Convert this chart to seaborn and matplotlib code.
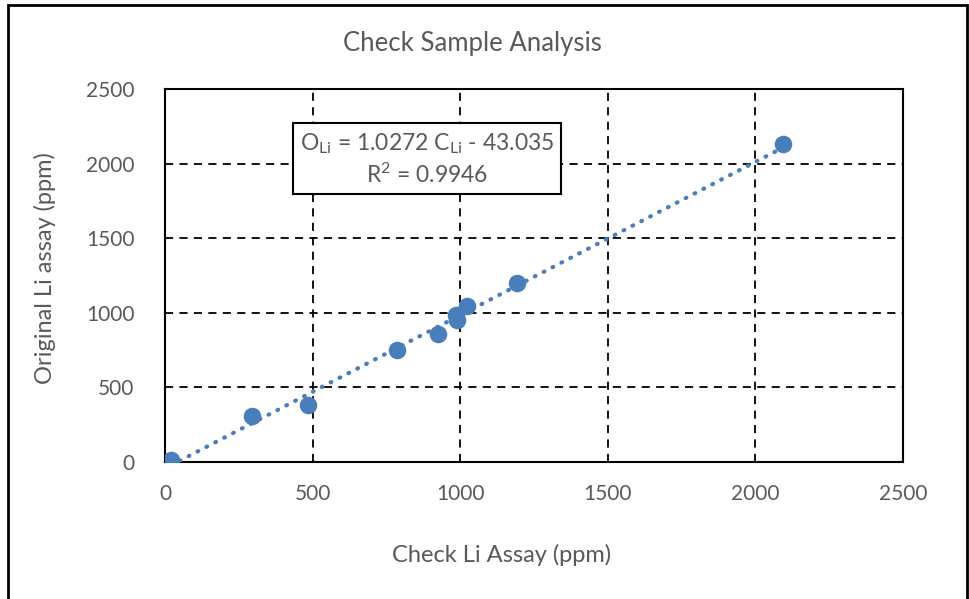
import numpy as np
import pandas as pd
import matplotlib.pyplot as plt
from matplotlib.patches import Rectangle
import seaborn as sns

# check assay vs original assay (ppm)
check_li = [20, 295, 484, 786, 925, 986, 988, 1023, 1192, 2093]
original_li = [15, 308, 382, 750, 858, 985, 952, 1046, 1200, 2131]

# trendline as printed on the chart
slope = 1.0272
intercept = -43.035
r_squared = 0.9946

ticks = [0, 500, 1000, 1500, 2000, 2500]

df = pd.DataFrame({"check": check_li, "original": original_li})

sns.set_style("white")
plt.rcParams['font.family'] = ['Lato', 'DejaVu Sans']

grey = "#595959"
blue = "#4a7ebb"

fig = plt.figure(figsize=(9.7, 5.99), dpi=100)
ax = fig.add_axes([165/970, 1 - 462/599, 738/970, 373/599])

# trendline (dotted)
xs = np.array([min(check_li), max(check_li)])
trend = pd.DataFrame({"x": xs, "y": slope * xs + intercept})
sns.lineplot(data=trend, x="x", y="y", ax=ax, color=blue, lw=3,
             linestyle=(0, (0.2, 2.2)), dash_capstyle="round", zorder=3)

sns.scatterplot(data=df, x="check", y="original", ax=ax, color=blue,
                s=160, edgecolor=blue, linewidth=0, zorder=4)

ax.set_xlim(0, 2500)
ax.set_ylim(0, 2500)
ax.set_xticks(ticks)
ax.set_yticks(ticks)
ax.grid(True, color="black", linestyle=(0, (4.5, 3.5)), lw=1.3)
for s in ax.spines.values():
    s.set_color("black")
    s.set_linewidth(1.5)
    s.set_visible(True)
ax.tick_params(axis="both", colors=grey, labelsize=15, length=0)
ax.tick_params(axis="x", pad=16)
ax.tick_params(axis="y", pad=22)
ax.set_xlabel("")
ax.set_ylabel("")

fig.text(472/970, 1 - 43/599, "Check Sample Analysis", ha="center", va="center",
         fontsize=18.5, color=grey)
fig.text(502/970, 1 - 555/599, "Check Li Assay (ppm)", ha="center", va="center",
         fontsize=17, color=grey)
fig.text(45/970, 1 - 268/599, "Original Li assay (ppm)", ha="center", va="center",
         fontsize=17, color=grey, rotation=90)

eq = ("$\\mathregular{O_{Li}}$ = 1.0272 $\\mathregular{C_{Li}}$ - 43.035\n"
      "$\\mathregular{R^2}$ = " + f"{r_squared}")
fig.text(427/970, 1 - 159/599, eq, ha="center", va="center", fontsize=16.5,
         color=grey, linespacing=1.35,
         bbox=dict(boxstyle="square,pad=0.3", fc="white", ec="black", lw=1.5))

# outer chart border
fig.patches.append(Rectangle((8/970, -0.05), 959/970, 1.05 - 5/599,
                             transform=fig.transFigure, fill=False,
                             ec="black", lw=2))

fig.savefig("out.png", dpi=100)
plt.close()
